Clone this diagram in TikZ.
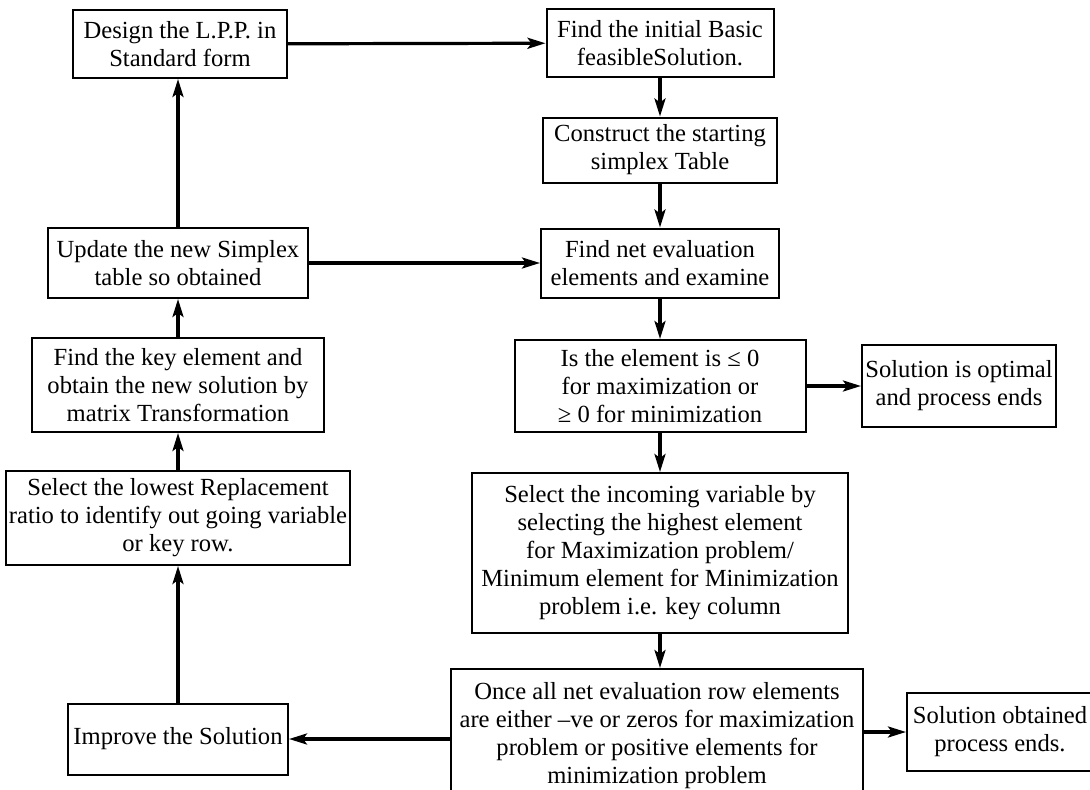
\documentclass[tikz,border=0pt]{standalone}
\usepackage{fontspec}
\setmainfont{Liberation Serif}
\usetikzlibrary{arrows.meta}

\begin{document}
\begin{tikzpicture}[x=1pt,y=-1pt,
    flowbox/.style={draw=black,line width=2pt,inner sep=0,align=center,
        font=\fontsize{24.6}{28}\selectfont},
    flowarrow/.style={line width=3.2pt,-{Stealth[length=18pt,width=11pt,inset=4pt]}}]
        \useasboundingbox (0,0) rectangle (1090,790);
        % left column
        \node[flowbox,minimum width=214,minimum height=68] (design) at (180,44) {Design the L.P.P. in\\Standard form};
        \node[flowbox,minimum width=260,minimum height=70] (update) at (178,263) {Update the new Simplex\\table so obtained};
        \node[flowbox,minimum width=292,minimum height=94] (keyelem) at (178,385) {Find the key element and\\obtain the new solution by\\matrix Transformation};
        \node[flowbox,minimum width=344,minimum height=94] (ratio) at (178,518) {Select the lowest Replacement\\ratio to identify out going variable\\or key row.};
        \node[flowbox,minimum width=220,minimum height=71] (improve) at (178,739) {Improve the Solution};
        % right column
        \node[flowbox,minimum width=227,minimum height=68] (initial) at (660,43) {Find the initial Basic\\feasibleSolution.};
        \node[flowbox,minimum width=234,minimum height=65] (construct) at (660,150) {Construct the starting\\simplex Table};
        \node[flowbox,minimum width=238,minimum height=69] (neteval) at (660,263) {Find net evaluation\\elements and examine};
        \node[flowbox,minimum width=291,minimum height=92] (check) at (660,386) {Is the element is ≤ 0\\for maximization or\\≥ 0 for minimization};
        \node[flowbox,minimum width=376,minimum height=160] (incoming) at (660,553) {Select the incoming variable by\\selecting the highest element\\for Maximization problem/\\Minimum element for Minimization\\problem i.e. key column};
        \node[flowbox,minimum width=412,minimum height=134] (allneg) at (657,736) {Once all net evaluation row elements\\are either –ve or zeros for maximization\\problem or positive elements for\\minimization problem};
        % end boxes
        \node[flowbox,minimum width=194,minimum height=82] (optimal) at (959,386) {Solution is optimal\\and process ends};
        \node[flowbox,minimum width=186,minimum height=78] (obtained) at (1000,732) {Solution obtained\\process ends.};
        % connectors
        \draw[flowarrow] (design) -- (initial);
        \draw[flowarrow] (initial) -- (construct);
        \draw[flowarrow] (construct) -- (neteval);
        \draw[flowarrow] (neteval) -- (check);
        \draw[flowarrow] (check) -- (optimal);
        \draw[flowarrow] (check) -- (incoming);
        \draw[flowarrow] (incoming.south) -- (incoming.south |- allneg.north);
        \draw[flowarrow] (allneg.east |- obtained) -- (obtained.west);
        \draw[flowarrow] (allneg.west |- improve) -- (improve.east);
        \draw[flowarrow] (improve) -- (ratio);
        \draw[flowarrow] (ratio) -- (keyelem);
        \draw[flowarrow] (keyelem) -- (update);
        \draw[flowarrow] (update) -- (update |- design.south);
        \draw[flowarrow] (update) -- (neteval);
    \end{tikzpicture}
\end{document}
